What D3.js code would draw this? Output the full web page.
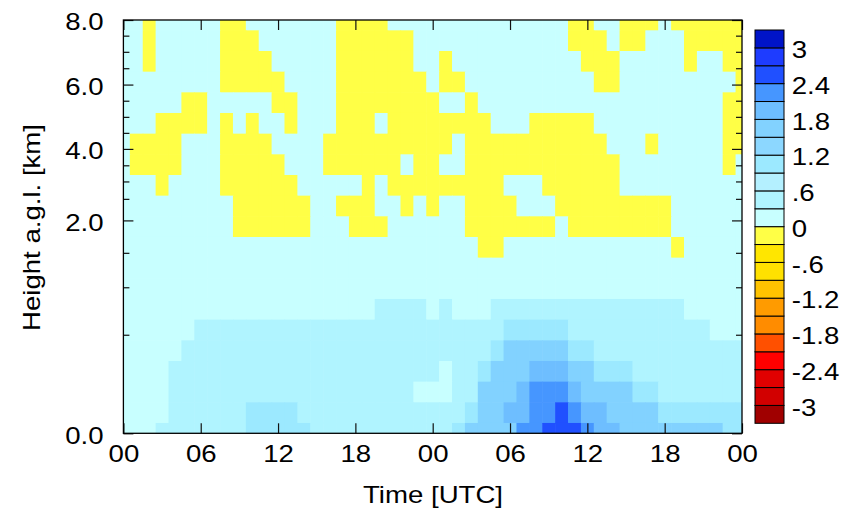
<!DOCTYPE html>
<html>
<head>
<meta charset="utf-8">
<script src="https://cdn.jsdelivr.net/npm/d3@7"></script>
<style>
  body { margin: 0; background: #fff; }
  svg { display: block; }
  text { font-family: "Liberation Sans", Arial, sans-serif; font-size: 23px; fill: #000; }
</style>
</head>
<body>
<div id="chart"></div>
<script>
// time axis (hours since start of the 2-day window)
const hourTicks = [0, 6, 12, 18, 24, 30, 36, 42, 48];
const hourLabels = ['00', '06', '12', '18', '00', '06', '12', '18', '00'];

// height of each model level (km), level 0 = ground
const levelKm = [0, 0.1, 0.2, 0.3, 0.4, 0.53, 0.75, 0.98, 1.28, 1.58, 1.87,
                 2.3, 2.88, 3.52, 4.15, 4.8, 5.44, 6.08, 6.71, 7.34, 8.0];
const kmMajor = [0, 2, 4, 6, 8];
const kmMinor = [0.5, 1, 1.5, 2.5, 3, 3.5, 4.5, 5, 5.5, 6.5, 7, 7.5];

// colour classes
const colorLevels = [-3, -2.7, -2.4, -2.1, -1.8, -1.5, -1.2, -0.9, -0.6, -0.3, 0,
                     0.3, 0.6, 0.9, 1.2, 1.5, 1.8, 2.1, 2.4, 2.7, 3];
const colorList = ['#a00000', '#d20000', '#e10000', '#ff0000', '#ff5000', '#ff8c00',
                   '#ff9b00', '#ffc300', '#ffe100', '#ffe600', '#ffff46',
                   '#c8ffff', '#b0f4ff', '#b4f0ff', '#9ce9ff', '#8cd7ff', '#82d2ff',
                   '#6ebeff', '#4696ff', '#2050ff', '#1e3cff', '#0014c8'];
const barExtent = [-3.3, 3.3];
const barLabels = [3, 2.4, 1.8, 1.2, 0.6, 0, -0.6, -1.2, -1.8, -2.4, -3];

// value read for each cell class
const classValue = { y: -0.15, 0: 0.15, 1: 0.45, 2: 0.75, 3: 1.05, 4: 1.35,
                     5: 1.65, 6: 1.95, 7: 2.25, 8: 2.55, 9: 2.85 };

// one string per level, top level (8 km) first, one char per hour 00..48
const rows = [
  '00y00000yy0000000yyyy00000000000000yy00yyy0yyyyyy',
  '00y00000yyy000000yyyyyy000000000000yyy0yy000yyyyy',
  '00y00000yyyy00000yyyyyy00y0000000000yyy00000y00yy',
  '00000000yyyyy0000yyyyyyy0yy0000000000yy000000000y',
  '00000yy00000yy000yyyyyyyy00y0000000000000000000yy',
  '000yyyy0y0y00y000yyy0yyyyyyyy000yyyyy0000000000yy',
  '0yyyy000yyyy0000yyyyyyyyyy0yyyyyyyyyyy000y00000yy',
  '0yyyy000yyyyy000yyyyyy0yy00yyyyyyyyyyyy00000000y0',
  '000y0000yyyyyy00000y0yyyyyyyyy000yyyyyy0000000000',
  '000000000yyyyyy00yyy00y0y00yyyy000yyyyyyyyy000000',
  '000000000yyyyyy000yyy000000yyyyyyy0yyyyyyyy000000',
  '0000000000000000000000000000yy0000000000000y00000',
  '0000000000000000000000000000000000000000000000000',
  '0000000000000000000000000000000000000000000000000',
  '0000000000000000000011110100011111111111111100000',
  '0000001111111111111111111111113333311111111111000',
  '0000011111111111111111111111135555533111111111111',
  '0000111111111111111111111011355566655333111111111',
  '0000111111111111111111100011555677765555331111111',
  '0000111111333311111111111113556677876655553333333',
  '0001111111333331111111111135555778887665555555533'
];

const cells = [];
rows.forEach((r, ri) => {
  r.split('').forEach((ch, h) => {
    cells.push({ level: rows.length - 1 - ri, hour: h, value: classValue[ch] });
  });
});

const width = 851;
const height = 509;
const plot = { left: 123.4, right: 742, top: 20, bottom: 433.3 };
const stretch = 1.2; // the original lettering is wider than Arial

const svg = d3.select('#chart').append('svg')
  .attr('width', width)
  .attr('height', height);

svg.append('rect').attr('width', width).attr('height', height).attr('fill', '#fff');

const x = d3.scaleLinear().domain([0, 48]).range([plot.left, plot.right]);
const yLev = d3.scaleLinear().domain([0, levelKm.length - 1]).range([plot.bottom, plot.top]);
const yKm = d3.scaleLinear().domain(levelKm).range(levelKm.map((d, i) => yLev(i)));
const color = d3.scaleThreshold().domain(colorLevels).range(colorList);

svg.append('clipPath').attr('id', 'plotClip')
  .append('rect')
  .attr('x', plot.left).attr('y', plot.top)
  .attr('width', plot.right - plot.left).attr('height', plot.bottom - plot.top);

const cw = x(1) - x(0);
const ch = yLev(0) - yLev(1);
svg.append('g')
  .attr('clip-path', 'url(#plotClip)')
  .selectAll('rect')
  .data(cells)
  .join('rect')
  .attr('x', d => x(d.hour - 0.5))
  .attr('y', d => yLev(d.level + 0.5))
  .attr('width', cw + 0.6)
  .attr('height', ch + 0.6)
  .attr('fill', d => color(d.value));

// axes, ticks pointing inward on all four sides
function styleAxis(g) {
  g.select('.domain').remove();
  g.selectAll('line').attr('stroke', '#111').attr('stroke-width', 1.2);
}

svg.append('g')
  .attr('transform', 'translate(0,' + plot.bottom + ')')
  .call(d3.axisBottom(x).tickValues(hourTicks)
    .tickFormat((d, i) => hourLabels[i]).tickSize(-10).tickPadding(12.5))
  .call(styleAxis)
  .call(g => g.selectAll('text')
    .attr('font-size', null).attr('font-family', null)
    .attr('transform', 'scale(' + stretch + ',1)'));

svg.append('g')
  .attr('transform', 'translate(0,' + plot.top + ')')
  .call(d3.axisTop(x).tickValues(hourTicks).tickFormat('').tickSize(-10))
  .call(styleAxis);

svg.append('g')
  .attr('transform', 'translate(' + plot.left + ',0)')
  .call(d3.axisLeft(yKm).tickValues(kmMajor).tickFormat(d3.format('.1f'))
    .tickSize(-10).tickPadding(16.6))
  .call(styleAxis)
  .call(g => g.selectAll('text')
    .attr('font-size', null).attr('font-family', null)
    .attr('dy', '0.43em')
    .attr('transform', 'scale(' + stretch + ',1)'));

svg.append('g')
  .attr('transform', 'translate(' + plot.left + ',0)')
  .call(d3.axisLeft(yKm).tickValues(kmMinor).tickFormat('').tickSize(-6))
  .call(styleAxis);

svg.append('g')
  .attr('transform', 'translate(' + plot.right + ',0)')
  .call(d3.axisRight(yKm).tickValues(kmMajor).tickFormat('').tickSize(-10))
  .call(styleAxis);

svg.append('g')
  .attr('transform', 'translate(' + plot.right + ',0)')
  .call(d3.axisRight(yKm).tickValues(kmMinor).tickFormat('').tickSize(-6))
  .call(styleAxis);

svg.append('rect')
  .attr('x', plot.left).attr('y', plot.top)
  .attr('width', plot.right - plot.left).attr('height', plot.bottom - plot.top)
  .attr('fill', 'none').attr('stroke', '#000').attr('stroke-width', 1.3);

// axis titles
svg.append('text')
  .attr('transform', 'translate(433,503) scale(' + stretch + ',1)')
  .attr('text-anchor', 'middle')
  .text('Time [UTC]');

svg.append('text')
  .attr('transform', 'translate(40,227.5) rotate(-90) scale(' + stretch + ',1)')
  .attr('text-anchor', 'middle')
  .text('Height a.g.l. [km]');

// colour bar
const bar = { left: 755, width: 29, top: 30, bottom: 423.3, labelX: 791.7 };
const cbY = d3.scaleLinear().domain([barExtent[1], barExtent[0]]).range([bar.top, bar.bottom]);
const boxes = colorList.map((c, i) => ({
  color: c,
  lo: i === 0 ? barExtent[0] : colorLevels[i - 1],
  hi: i === colorList.length - 1 ? barExtent[1] : colorLevels[i]
}));

svg.append('g')
  .selectAll('rect')
  .data(boxes)
  .join('rect')
  .attr('x', bar.left)
  .attr('y', d => cbY(d.hi))
  .attr('width', bar.width)
  .attr('height', d => cbY(d.lo) - cbY(d.hi))
  .attr('fill', d => d.color)
  .attr('stroke', '#000')
  .attr('stroke-width', 1);

const barFmt = d => String(d).replace('0.', '.');
svg.append('g')
  .selectAll('text')
  .data(barLabels)
  .join('text')
  .attr('transform', d => 'translate(' + bar.labelX + ',' + (cbY(d) + 2) + ') scale(' + stretch + ',1)')
  .attr('dy', '0.36em')
  .text(barFmt);
</script>
</body>
</html>
